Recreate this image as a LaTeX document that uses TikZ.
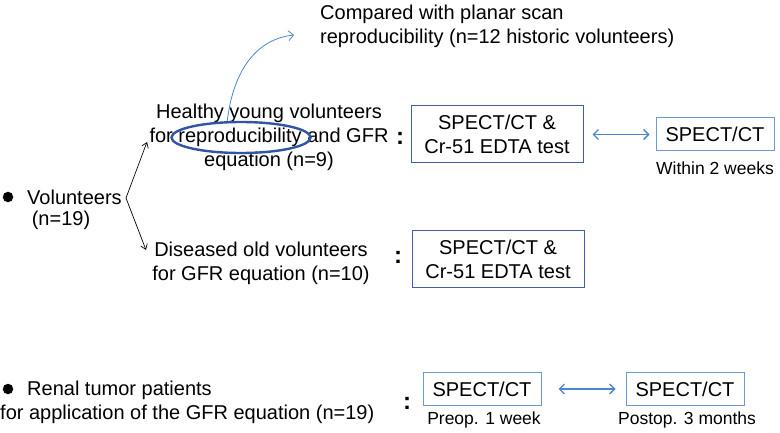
\documentclass[tikz,border=0pt]{standalone}
\usepackage{fontspec}
\setmainfont{Liberation Sans}
\usetikzlibrary{shapes.geometric,arrows.meta}
\definecolor{boxdark}{HTML}{3F5FA8}
\definecolor{boxlight}{HTML}{6C9AD6}
\definecolor{ellblue}{HTML}{2F55A4}
\definecolor{arrblue}{HTML}{4A86D2}
\begin{document}
\begin{tikzpicture}[x=1pt,y=-1pt,
  txt/.style={inner sep=0pt,font=\fontsize{20}{24}\selectfont},
  smalltxt/.style={inner sep=0pt,font=\fontsize{17.5}{20}\selectfont},
  colonmark/.style={inner sep=0pt,font=\fontsize{24}{24}\selectfont\bfseries},
  bigbox/.style={draw=boxdark,line width=1pt,inner sep=0pt,align=center,
    minimum width=172pt,minimum height=57pt,font=\fontsize{20}{24}\selectfont},
  smallbox/.style={draw=boxlight,line width=1pt,inner sep=0pt,align=center,
    minimum width=118pt,minimum height=33pt,font=\fontsize{20}{24}\selectfont},
  dbl/.style={draw=arrblue,line width=1.3pt,{Straight Barb[length=5pt,width=10pt]}-{Straight Barb[length=5pt,width=10pt]}},
  blk/.style={draw=black,line width=0.7pt,-{Straight Barb[length=5pt,width=7pt]}},
  dot/.style={circle,fill=black,inner sep=0pt,minimum size=10.5pt}
]
\useasboundingbox (0,0) rectangle (780,433);

% top note
\node[txt,anchor=west,align=left] (comp) at (320,26) {Compared with planar scan\\reproducibility (n=12 historic volunteers)};

% healthy group
\node[txt,align=center] (healthy) at (269,137) {Healthy young volunteers\\for reproducibility and GFR\\equation (n=9)};
\node[draw=ellblue,line width=2.4pt,ellipse,inner sep=0pt,minimum width=139pt,minimum height=31pt] (ell) at (241,137.5) {};
\coordinate (cmpend) at (294,35);
\draw[draw=arrblue,line width=0.8pt,-{Straight Barb[length=5pt,width=10pt]}] (ell.130) .. controls (232,80) and (250,40) .. (cmpend);

\node[colonmark] (c1) at (400,138) {:};
\node[bigbox] (b1) at (497,134.5) {SPECT/CT \&\\Cr-51 EDTA test};
\node[smallbox] (b2) at (715,134.5) {SPECT/CT};
\draw[dbl,shorten <=9pt,shorten >=6pt] (b1.east) -- (b2.west);
\node[smalltxt] (w2) at (715,168) {Within 2 weeks};

% volunteers
\node[dot] (d1) at (8,197) {};
\node[txt,anchor=west] (vol) at (27,197) {Volunteers};
\node[txt] (n19) at (61,220) {(n=19)};
\coordinate (vx) at (126,198);
\coordinate (upt) at (147,142);
\coordinate (dnt) at (146,250);
\draw[blk] (vx) -- (upt);
\draw[blk] (vx) -- (dnt);

% diseased group
\node[txt,align=center] (dis) at (261,263) {Diseased old volunteers\\for GFR equation (n=10)};
\node[colonmark] (c2) at (398,257) {:};
\node[bigbox] (b3) at (498,259) {SPECT/CT \&\\Cr-51 EDTA test};

% renal tumor patients
\node[dot] (d2) at (8,389) {};
\node[txt,anchor=west] (ren) at (27,390) {Renal tumor patients};
\node[txt,anchor=west] (app) at (0,414) {for application of the GFR equation (n=19)};
\node[colonmark] (c3) at (407,403) {:};
\node[smallbox] (b4) at (482,389) {SPECT/CT};
\node[smallbox] (b5) at (685,389) {SPECT/CT};
\draw[dbl,shorten <=17pt,shorten >=10pt] (b4.east) -- (b5.west);
\node[smalltxt] (pre) at (484,420) {Preop. 1 week};
\node[smalltxt] (post) at (687,420) {Postop. 3 months};
\end{tikzpicture}
\end{document}
